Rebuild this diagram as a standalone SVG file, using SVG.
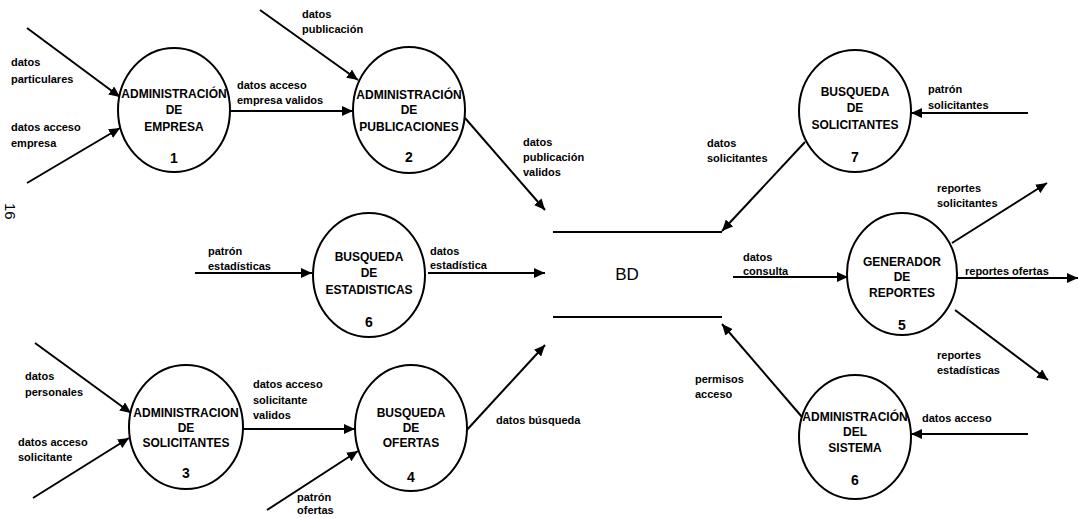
<svg xmlns="http://www.w3.org/2000/svg" width="1079" height="518" viewBox="0 0 1079 518">
  <defs>
    <marker id="arrow" viewBox="0 0 11 10" refX="11" refY="5" markerWidth="11" markerHeight="10" markerUnits="userSpaceOnUse" orient="auto">
      <path d="M0,0 L11,5 L0,10 z" fill="#000"/>
    </marker>
  </defs>
  <style>
    .proc { fill: #fff; stroke: #000; stroke-width: 2; }
    .ptxt { font-family: "Liberation Sans", Arial, sans-serif; font-weight: bold; font-size: 12px; text-anchor: middle; fill: #000; }
    .num { font-size: 14px; }
    .flow { stroke: #000; stroke-width: 2; fill: none; marker-end: url(#arrow); }
    .store { stroke: #000; stroke-width: 2; }
    .lbl { font-family: "Liberation Sans", Arial, sans-serif; font-weight: bold; font-size: 11px; fill: #000; }
    .bd { font-family: "Liberation Sans", Arial, sans-serif; font-size: 17px; text-anchor: middle; fill: #000; }
    .page { font-family: "Liberation Sans", Arial, sans-serif; font-size: 15px; fill: #000; }
  </style>
  <rect width="1079" height="518" fill="#fff"/>

  <!-- page number -->
  <text class="page" x="5" y="203" transform="rotate(90 5 203)">16</text>

  <!-- data flows -->
  <g id="connectors">
    <line class="flow" x1="27" y1="28" x2="120" y2="97"/>
    <line class="flow" x1="27" y1="183" x2="120" y2="128"/>
    <line class="flow" x1="230" y1="111" x2="353" y2="111"/>
    <line class="flow" x1="260" y1="10" x2="358" y2="80"/>
    <line class="flow" x1="465" y1="118" x2="545" y2="210"/>
    <line class="flow" x1="195" y1="273" x2="312" y2="273"/>
    <line class="flow" x1="428" y1="273" x2="545" y2="273"/>
    <line class="flow" x1="35" y1="343" x2="131" y2="413"/>
    <line class="flow" x1="33" y1="498" x2="129" y2="438"/>
    <line class="flow" x1="243" y1="429" x2="355" y2="429"/>
    <line class="flow" x1="267" y1="510" x2="358" y2="451"/>
    <line class="flow" x1="465" y1="432" x2="545" y2="345"/>
    <line class="flow" x1="805" y1="142" x2="722" y2="231"/>
    <line class="flow" x1="1028" y1="113" x2="911" y2="113"/>
    <line class="flow" x1="733" y1="277" x2="848" y2="277"/>
    <line class="flow" x1="952" y1="243" x2="1047" y2="183"/>
    <line class="flow" x1="955" y1="278" x2="1078" y2="278"/>
    <line class="flow" x1="955" y1="310" x2="1048" y2="380"/>
    <line class="flow" x1="802" y1="417" x2="722" y2="324"/>
    <line class="flow" x1="1028" y1="434" x2="911" y2="434"/>
  </g>

  <!-- flow labels -->
  <g id="labels">
    <text class="lbl" x="11" y="66">datos</text>
    <text class="lbl" x="11" y="83">particulares</text>
    <text class="lbl" x="11" y="131">datos acceso</text>
    <text class="lbl" x="11" y="147">empresa</text>
    <text class="lbl" x="237" y="89">datos acceso</text>
    <text class="lbl" x="237" y="104">empresa validos</text>
    <text class="lbl" x="302" y="18">datos</text>
    <text class="lbl" x="302" y="33">publicación</text>
    <text class="lbl" x="523" y="146">datos</text>
    <text class="lbl" x="523" y="161">publicación</text>
    <text class="lbl" x="523" y="176">validos</text>
    <text class="lbl" x="208" y="255">patrón</text>
    <text class="lbl" x="208" y="270">estadísticas</text>
    <text class="lbl" x="430" y="255">datos</text>
    <text class="lbl" x="430" y="269">estadística</text>
    <text class="lbl" x="25" y="380">datos</text>
    <text class="lbl" x="25" y="396">personales</text>
    <text class="lbl" x="18" y="446">datos acceso</text>
    <text class="lbl" x="18" y="461">solicitante</text>
    <text class="lbl" x="253" y="388">datos acceso</text>
    <text class="lbl" x="253" y="404">solicitante</text>
    <text class="lbl" x="253" y="419">validos</text>
    <text class="lbl" x="297" y="501">patrón</text>
    <text class="lbl" x="297" y="514">ofertas</text>
    <text class="lbl" x="496" y="424">datos búsqueda</text>
    <text class="lbl" x="707" y="147">datos</text>
    <text class="lbl" x="707" y="162">solicitantes</text>
    <text class="lbl" x="928" y="93">patrón</text>
    <text class="lbl" x="928" y="109">solicitantes</text>
    <text class="lbl" x="743" y="261">datos</text>
    <text class="lbl" x="743" y="275">consulta</text>
    <text class="lbl" x="937" y="192">reportes</text>
    <text class="lbl" x="937" y="207">solicitantes</text>
    <text class="lbl" x="965" y="275">reportes ofertas</text>
    <text class="lbl" x="937" y="359">reportes</text>
    <text class="lbl" x="937" y="374">estadísticas</text>
    <text class="lbl" x="695" y="383">permisos</text>
    <text class="lbl" x="695" y="398">acceso</text>
    <text class="lbl" x="922" y="422">datos acceso</text>
  </g>

  <!-- data store -->
  <g id="store-bd">
    <line class="store" x1="553" y1="232" x2="722" y2="232"/>
    <line class="store" x1="553" y1="317" x2="722" y2="317"/>
    <text class="bd" x="627" y="280">BD</text>
  </g>

  <!-- processes -->
  <g id="p1">
    <ellipse class="proc" cx="174" cy="110" rx="56" ry="62"/>
    <text class="ptxt" x="174" y="98">ADMINISTRACIÓN</text>
    <text class="ptxt" x="174" y="114">DE</text>
    <text class="ptxt" x="174" y="131">EMPRESA</text>
    <text class="ptxt num" x="174" y="163">1</text>
  </g>
  <g id="p2">
    <ellipse class="proc" cx="409" cy="110" rx="56" ry="63"/>
    <text class="ptxt" x="409" y="99">ADMINISTRACIÓN</text>
    <text class="ptxt" x="409" y="114">DE</text>
    <text class="ptxt" x="409" y="131">PUBLICACIONES</text>
    <text class="ptxt num" x="409" y="162">2</text>
  </g>
  <g id="p6-estadisticas">
    <ellipse class="proc" cx="369" cy="275" rx="56" ry="62"/>
    <text class="ptxt" x="369" y="261">BUSQUEDA</text>
    <text class="ptxt" x="369" y="277">DE</text>
    <text class="ptxt" x="369" y="294">ESTADISTICAS</text>
    <text class="ptxt num" x="369" y="327">6</text>
  </g>
  <g id="p3">
    <ellipse class="proc" cx="186" cy="427" rx="57" ry="62"/>
    <text class="ptxt" x="186" y="417">ADMINISTRACION</text>
    <text class="ptxt" x="186" y="432">DE</text>
    <text class="ptxt" x="186" y="447">SOLICITANTES</text>
    <text class="ptxt num" x="186" y="478">3</text>
  </g>
  <g id="p4">
    <ellipse class="proc" cx="411" cy="428" rx="56" ry="63"/>
    <text class="ptxt" x="411" y="417">BUSQUEDA</text>
    <text class="ptxt" x="411" y="432">DE</text>
    <text class="ptxt" x="411" y="447">OFERTAS</text>
    <text class="ptxt num" x="411" y="482">4</text>
  </g>
  <g id="p7">
    <ellipse class="proc" cx="855" cy="111" rx="56" ry="61"/>
    <text class="ptxt" x="855" y="96">BUSQUEDA</text>
    <text class="ptxt" x="855" y="112">DE</text>
    <text class="ptxt" x="855" y="129">SOLICITANTES</text>
    <text class="ptxt num" x="855" y="162">7</text>
  </g>
  <g id="p5">
    <ellipse class="proc" cx="902" cy="274" rx="55" ry="61"/>
    <text class="ptxt" x="902" y="266">GENERADOR</text>
    <text class="ptxt" x="902" y="281">DE</text>
    <text class="ptxt" x="902" y="297">REPORTES</text>
    <text class="ptxt num" x="902" y="330">5</text>
  </g>
  <g id="p6-sistema">
    <ellipse class="proc" cx="855" cy="437" rx="56" ry="62"/>
    <text class="ptxt" x="855" y="421">ADMINISTRACIÓN</text>
    <text class="ptxt" x="855" y="436">DEL</text>
    <text class="ptxt" x="855" y="452">SISTEMA</text>
    <text class="ptxt num" x="855" y="485">6</text>
  </g>
</svg>
